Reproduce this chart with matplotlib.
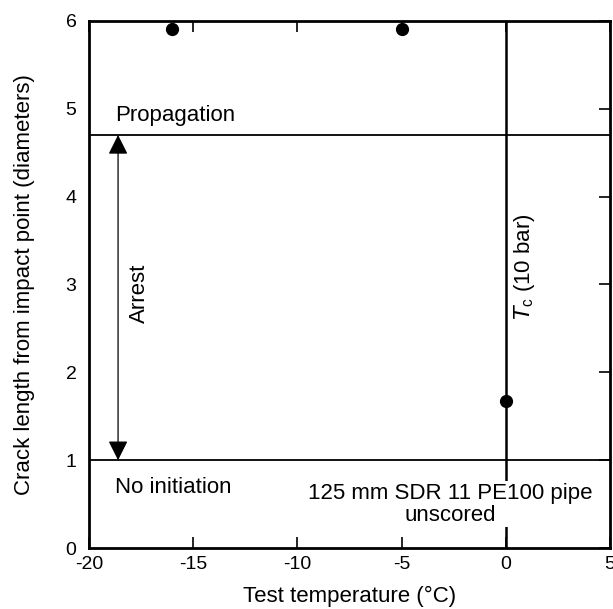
import numpy as np
import matplotlib.pyplot as plt

plt.rcParams['font.family'] = ['Liberation Sans', 'DejaVu Sans']
plt.rcParams['axes.unicode_minus'] = False

# 数据点
temps = [-16, -5, 0]
crack_len = [5.9, 5.9, 1.67]

# 分界线
propagation_level = 4.7
initiation_level = 1.0
tc_temp = 0

x_ticks = [-20, -15, -10, -5, 0, 5]
y_ticks = [0, 1, 2, 3, 4, 5, 6]

fig = plt.figure(figsize=(6.13, 6.09), dpi=100)
ax = fig.add_axes([0.145, 0.1, 0.85, 0.866])

# 水平线和竖线
ax.axhline(propagation_level, color='k', lw=1.3)
ax.axhline(initiation_level, color='k', lw=1.3)
ax.plot([tc_temp, tc_temp], [0, 6], color='k', lw=1.8, zorder=2)

# 数据点
ax.plot(temps, crack_len, 'o', color='k', ms=8.5, zorder=4)

# 双向箭头
ax.annotate('', xy=(-18.6, initiation_level), xytext=(-18.6, propagation_level),
            arrowprops=dict(arrowstyle='<|-|>', color='k', lw=0.9,
                            mutation_scale=30, shrinkA=0, shrinkB=0))

# 文字
fs = 16
ax.text(-18.75, 4.92, 'Propagation', fontsize=fs, va='center', ha='left')
ax.text(-18.75, 0.69, 'No initiation', fontsize=fs, va='center', ha='left')
ax.text(-17.55, 2.9, 'Arrest', fontsize=fs, rotation=90, va='center', ha='center')
ax.text(0.9, 3.2, '$T_\\mathregular{c}$ (10 bar)', fontsize=fs, rotation=90,
        va='center', ha='center')
ax.text(-2.65, 0.5, '125 mm SDR 11 PE100 pipe\nunscored', fontsize=fs,
        ha='center', va='center', linespacing=1.05,
        bbox=dict(facecolor='white', edgecolor='none', pad=1), zorder=3)

ax.set_xlim(-20, 5)
ax.set_ylim(0, 6)
ax.set_xticks(x_ticks)
ax.set_yticks(y_ticks)
ax.tick_params(axis='both', direction='in', length=8, width=1.2,
               labelsize=14, top=True, right=True, left=False)
ax.tick_params(axis='x', pad=6)
ax.tick_params(axis='y', pad=9)

for sp in ax.spines.values():
    sp.set_linewidth(2)

ax.set_xlabel('Test temperature (°C)', fontsize=16, labelpad=9)
ax.set_ylabel('Crack length from impact point (diameters)', fontsize=16, labelpad=22)

fig.savefig('out.png', dpi=100)
